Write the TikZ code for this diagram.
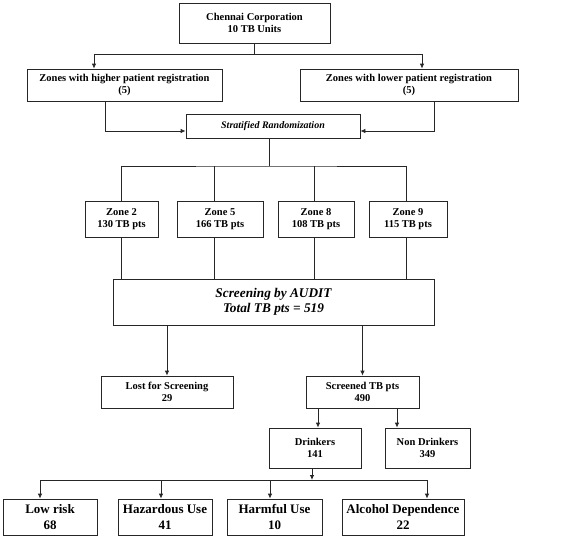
\documentclass[tikz,border=0pt]{standalone}
\usepackage{fontspec}
\setmainfont{Liberation Serif}
\usetikzlibrary{arrows.meta}
\begin{document}
\begin{tikzpicture}[x=1pt, y=-1pt, line width=0.8pt, draw=black!85,
  box/.style={draw=black!85, rectangle, inner sep=0pt, align=center,
    font=\fontsize{10.5}{12.5}\selectfont\bfseries},
  bigbox/.style={box, font=\fontsize{13}{15.5}\selectfont\bfseries},
  arr/.style={-{Latex[length=5pt,width=4.5pt]}}]
\useasboundingbox (0,0) rectangle (563,538);
% top of the study
\node (chennai) at (254.5,23) [box, minimum width=151, minimum height=40] {Chennai Corporation\\10 TB Units};
\node (higher) at (124.5,85) [box, minimum width=195, minimum height=32] {Zones with higher patient registration\\(5)};
\node (lower) at (409,85) [box, minimum width=218, minimum height=32] {Zones with lower patient registration\\(5)};
\node (strat) at (273,126) [box, minimum width=174, minimum height=24, font=\fontsize{10}{12}\selectfont\bfseries\itshape] {Stratified Randomization};
\coordinate (split) at (254.5,54);
\draw (chennai.south) -- (split);
\draw[arr] (split) -| ([xshift=-30.5]higher.north);
\draw[arr] (split) -| ([xshift=13]lower.north);
\draw[arr] ([xshift=-19.5]higher.south) |- ([yshift=-5]strat.west);
\draw[arr] ([xshift=25]lower.south) |- ([yshift=-5]strat.east);
% zones
\node (zoneB) at (121.5,219) [box, minimum width=73, minimum height=36] {Zone 2\\130 TB pts};
\node (zoneE) at (220,219) [box, minimum width=86, minimum height=36] {Zone 5\\166 TB pts};
\node (zoneH) at (316,219) [box, minimum width=76, minimum height=36] {Zone 8\\108 TB pts};
\node (zoneI) at (408,219) [box, minimum width=78, minimum height=36] {Zone 9\\115 TB pts};
\coordinate (zsplit) at (269,166);
\draw ([xshift=-4]strat.south) -- (zsplit);
\draw (zoneB.north) |- (zsplit) -| ([xshift=-2]zoneI.north);
\draw ([xshift=-6]zoneE.north) -- ([xshift=-6]zoneE.north |- zsplit);
\draw ([xshift=-2]zoneH.north) -- ([xshift=-2]zoneH.north |- zsplit);
% screening
\node (audit) at (273.5,302) [box, minimum width=321, minimum height=46, font=\fontsize{13.3}{15.5}\selectfont\bfseries\itshape] {Screening by AUDIT\\Total TB pts = 519};
\draw (zoneB.south) -- (zoneB.south |- audit.north);
\draw ([xshift=-6]zoneE.south) -- ([xshift=-6]zoneE.south |- audit.north);
\draw ([xshift=-2]zoneH.south) -- ([xshift=-2]zoneH.south |- audit.north);
\draw ([xshift=-2]zoneI.south) -- ([xshift=-2]zoneI.south |- audit.north);
\node (lost) at (167,392) [box, minimum width=132, minimum height=32] {Lost for Screening\\29};
\node (screened) at (362.5,392) [box, minimum width=113, minimum height=32] {Screened TB pts\\490};
\draw[arr] (lost.north |- audit.south) -- (lost.north);
\draw[arr] (screened.north |- audit.south) -- (screened.north);
% drinkers
\node (drinkers) at (315,448) [box, minimum width=92, minimum height=40] {Drinkers\\141};
\node (nondrink) at (427.5,448) [box, minimum width=85, minimum height=40] {Non Drinkers\\349};
\draw[arr] ([xshift=-44.5]screened.south) -- ([xshift=-44.5]screened.south |- drinkers.north);
\draw[arr] ([xshift=34.5]screened.south) -- ([xshift=34.5]screened.south |- nondrink.north);
% AUDIT categories
\node (lowrisk) at (50,517) [bigbox, minimum width=94, minimum height=36] {Low risk\\68};
\node (hazard) at (165,517) [bigbox, minimum width=94, minimum height=36] {Hazardous Use\\41};
\node (harmful) at (274.5,517) [bigbox, minimum width=95, minimum height=36] {Harmful Use\\10};
\node (depend) at (403,517) [bigbox, minimum width=122, minimum height=36] {Alcohol Dependence\\22};
\coordinate (dsplit) at (312,480);
\draw[arr] ([xshift=-3]drinkers.south) -- (dsplit);
\draw[arr] (dsplit) -| ([xshift=-10]lowrisk.north);
\draw[arr] (dsplit) -| ([xshift=24]depend.north);
\draw[arr] ([xshift=-4]hazard.north |- dsplit) -- ([xshift=-4]hazard.north);
\draw[arr] ([xshift=-4.5]harmful.north |- dsplit) -- ([xshift=-4.5]harmful.north);
\end{tikzpicture}
\end{document}
